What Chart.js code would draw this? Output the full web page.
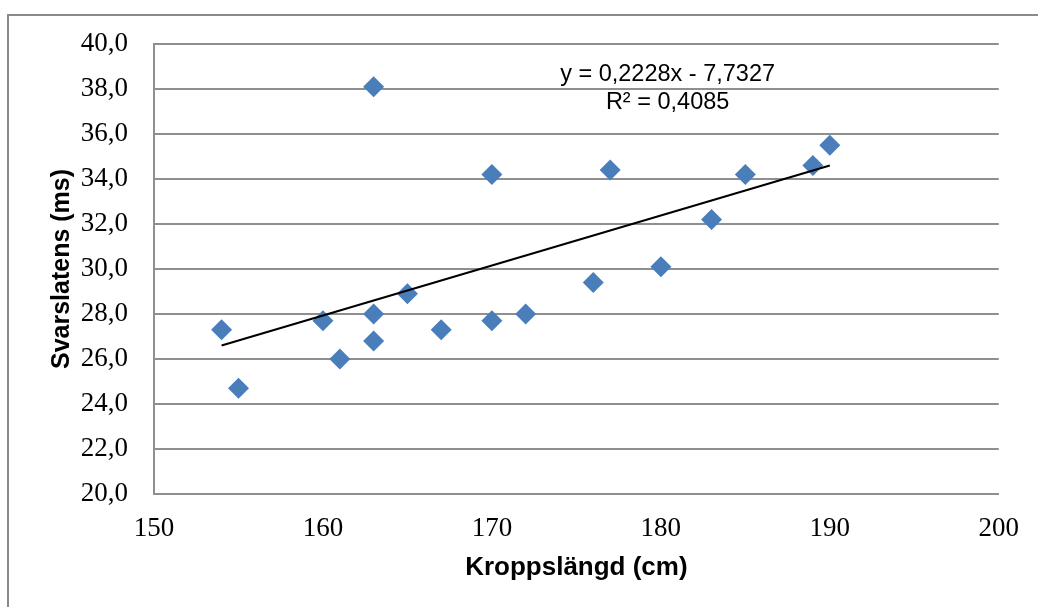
<!DOCTYPE html>
<html>
<head>
<meta charset="utf-8">
<script src="https://cdn.jsdelivr.net/npm/chart.js@4.4.1/dist/chart.umd.min.js"></script>
<style>
  html, body { margin: 0; padding: 0; background: #fff; }
  #wrap { width: 1038px; height: 607px; }
</style>
</head>
<body>
<div id="wrap"><canvas id="myChart"></canvas></div>
<script>
// measured points: body height (cm) vs response latency (ms)
let heights = [154, 155, 160, 161, 163, 163, 163, 165, 167, 170, 170, 172, 176, 177, 180, 183, 185, 189, 190];
let latency = [27.3, 24.7, 27.7, 26.0, 38.1, 28.0, 26.8, 28.9, 27.3, 34.2, 27.7, 28.0, 29.4, 34.4, 30.1, 32.2, 34.2, 34.6, 35.5];

// linear trendline as drawn (ends)
let trendX = [154, 190];
let trendY = [26.6, 34.6];
let trendText = ['y = 0,2228x - 7,7327', 'R² = 0,4085'];

let gridGray = '#8f8f8f';
let tickFont = { family: '"Liberation Serif", serif', size: 27 };

// frame around the chart (only top and left edges show in the picture)
const framePlugin = {
  id: 'frame',
  beforeDraw(c) {
    let ctx = c.ctx;
    ctx.save();
    ctx.strokeStyle = '#8a8a8a';
    ctx.lineWidth = 2;
    ctx.beginPath();
    ctx.moveTo(8, c.height);
    ctx.lineTo(8, 15);
    ctx.lineTo(c.width, 15);
    ctx.stroke();
    ctx.restore();
  }
};

// equation label placed in data coordinates
const trendLabel = {
  id: 'trendLabel',
  afterDatasetsDraw(c) {
    let ctx = c.ctx;
    let x = c.scales.x.getPixelForValue(180.4);
    ctx.save();
    ctx.font = '23.5px "Liberation Sans", Arial, sans-serif';
    ctx.fillStyle = '#000';
    ctx.textAlign = 'center';
    ctx.textBaseline = 'middle';
    ctx.fillText(trendText[0], x, c.scales.y.getPixelForValue(38.65));
    ctx.fillText(trendText[1], x, c.scales.y.getPixelForValue(37.4));
    ctx.restore();
  }
};

let chart = document.getElementById('myChart');

const config = {
  type: 'scatter',
  data: {
    datasets: [{
      label: 'Trend',
      type: 'line',
      data: trendX.map((x, i) => ({ x: x, y: trendY[i] })),
      borderColor: '#000',
      borderWidth: 2,
      pointRadius: 0,
      fill: false,
      order: 0
    }, {
      label: 'Svarslatens',
      data: heights.map((x, i) => ({ x: x, y: latency[i] })),
      pointStyle: 'rectRot',
      pointRadius: 10.5,
      pointHoverRadius: 10.5,
      backgroundColor: '#4a7ebb',
      borderWidth: 0,
      order: 1
    }]
  },
  options: {
    responsive: true,
    maintainAspectRatio: false,
    animation: false,
    layout: { padding: { top: 44, right: 38, left: 0, bottom: 0 } },
    plugins: {
      legend: { display: false },
      tooltip: { enabled: false }
    },
    scales: {
      x: {
        type: 'linear',
        min: 150,
        max: 200,
        grid: { display: false, drawTicks: false },
        border: { display: true, color: gridGray, width: 2 },
        ticks: {
          stepSize: 10,
          color: '#000',
          font: tickFont,
          padding: 19,
          maxRotation: 0
        },
        title: {
          display: true,
          text: 'Kroppslängd (cm)',
          color: '#000',
          font: { family: '"Liberation Sans", Arial, sans-serif', size: 26, weight: 'bold' },
          padding: { top: 0, bottom: 24 }
        },
        afterFit(scale) { scale.height = 113; }
      },
      y: {
        type: 'linear',
        min: 20,
        max: 40,
        grid: { color: gridGray, lineWidth: 2, drawTicks: false },
        border: { display: true, color: gridGray, width: 2 },
        ticks: {
          stepSize: 2,
          color: '#000',
          font: tickFont,
          padding: 26,
          callback: v => v.toFixed(1).replace('.', ',')
        },
        title: {
          display: true,
          text: 'Svarslatens (ms)',
          color: '#000',
          font: { family: '"Liberation Sans", Arial, sans-serif', size: 25, weight: 'bold' },
          padding: { top: 47, bottom: 0 }
        },
        afterFit(scale) { scale.width = 154; }
      }
    }
  },
  plugins: [framePlugin, trendLabel]
};

var myChart = new Chart(chart, config);
</script>
</body>
</html>
